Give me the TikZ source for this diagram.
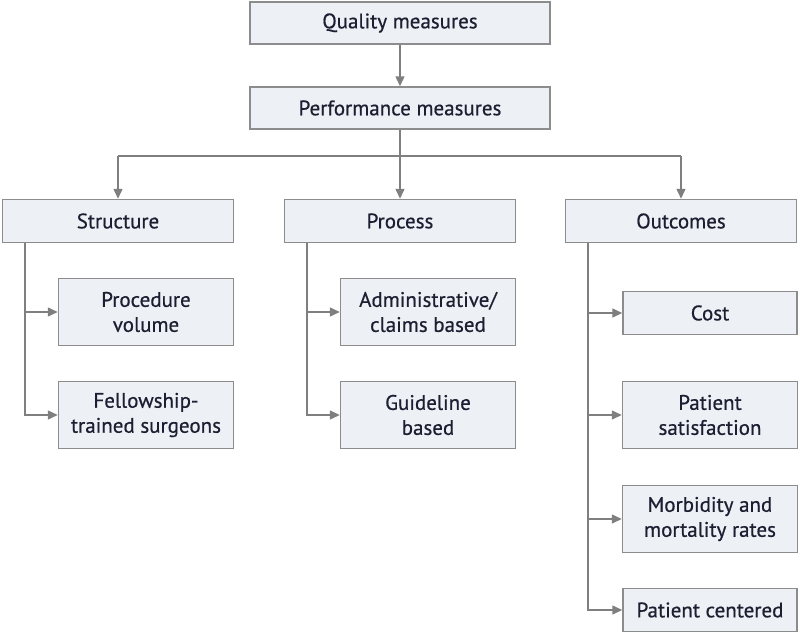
\documentclass[tikz,border=0pt]{standalone}
\usepackage{fontspec}
\setmainfont{PT Sans}[FakeBold=0.6]
\usetikzlibrary{arrows.meta}

\definecolor{boxfill}{HTML}{EDF1F5}
\definecolor{boxline}{HTML}{8C8C8C}
\definecolor{arrline}{HTML}{7F7F7F}
\definecolor{textcol}{HTML}{1E1E32}

\tikzset{
  box/.style={draw=boxline, fill=boxfill, line width=1.5pt, align=center, text=textcol,
    font=\fontsize{21}{25}\selectfont, inner sep=0pt},
  wide/.style={box, minimum width=300pt, minimum height=42pt},
  head/.style={box, minimum width=231pt, minimum height=43pt},
  leaf/.style={box, minimum width=175pt, minimum height=67pt},
  slim/.style={box, minimum width=174pt, minimum height=43pt},
  arr/.style={draw=arrline, line width=1.5pt, -{Triangle[length=10pt,width=9pt]}},
}

\begin{document}
\begin{tikzpicture}[x=1pt, y=-1pt]
  \useasboundingbox (0,0) rectangle (800,634);
  \node[wide] (Q) at (400,23) {Quality measures};
  \node[wide] (P) at (400,108) {Performance measures};
  \node[head] (S) at (118,221) {Structure};
  \node[head] (Pr) at (400,221) {Process};
  \node[head] (O) at (681,221) {Outcomes};
  \node[leaf] (PV) at (146,312) {Procedure\\volume};
  \node[leaf] (FT) at (146,415) {Fellowship-\\trained surgeons};
  \node[leaf] (AC) at (428,312) {Administrative/\\claims based};
  \node[leaf] (GB) at (428,415) {Guideline\\based};
  \node[slim] (C) at (710,313) {Cost};
  \node[leaf] (PS) at (710,415) {Patient\\satisfaction};
  \node[leaf] (MM) at (710,519) {Morbidity and\\mortality rates};
  \node[slim] (PC) at (710,610) {Patient centered};
  \coordinate (bus) at (400,156);
  \draw[arr] (Q) -- (P);
  \draw[arr] (P) -- (Pr);
  \draw[draw=arrline, line width=1.5pt] (bus -| S) -- (bus -| O);
  \draw[arr] (bus -| S) -- (S);
  \draw[arr] (bus -| O) -- (O);
  \draw[arr] ([xshift=23pt]S.south west) |- (PV);
  \draw[arr] ([xshift=23pt]S.south west) |- (FT);
  \draw[arr] ([xshift=23pt]Pr.south west) |- (AC);
  \draw[arr] ([xshift=23pt]Pr.south west) |- (GB);
  \draw[arr] ([xshift=23pt]O.south west) |- (C);
  \draw[arr] ([xshift=23pt]O.south west) |- (PS);
  \draw[arr] ([xshift=23pt]O.south west) |- (MM);
  \draw[arr] ([xshift=23pt]O.south west) |- (PC);
\end{tikzpicture}
\end{document}
